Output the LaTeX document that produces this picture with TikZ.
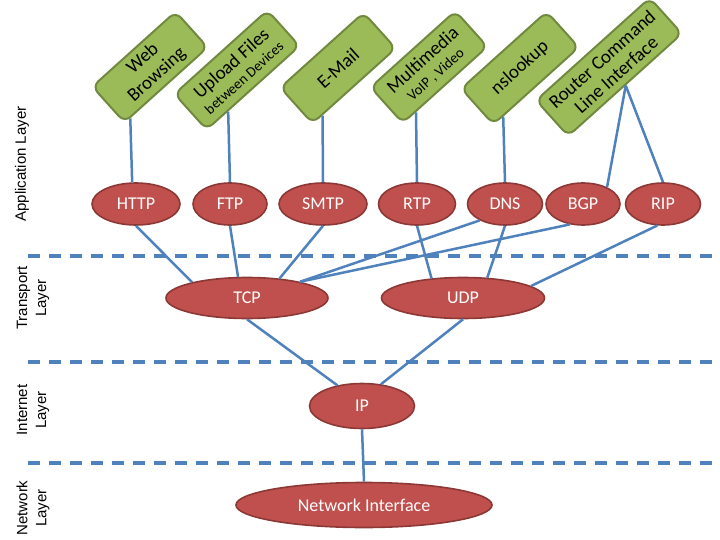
\documentclass[tikz,border=0pt]{standalone}
\usepackage{fontspec}
\setmainfont{Carlito}
\newfontfamily\layerfont{Liberation Sans}
\usetikzlibrary{shapes.geometric}
\definecolor{protofill}{HTML}{C0504D}
\definecolor{protoline}{HTML}{8C3836}
\definecolor{appfill}{HTML}{9BBB59}
\definecolor{appline}{HTML}{71893F}
\definecolor{linkblue}{HTML}{4F81BD}
\pgfkeys{tikz/proto/.style={ellipse,draw=protoline,fill=protofill,line width=1.6pt,inner sep=0pt,text=white,font=\fontsize{18}{20}\selectfont}}
\pgfkeys{tikz/appbox/.style={rectangle,rounded corners=8pt,draw=appline,fill=appfill,line width=2pt,rotate=42,minimum height=48pt,inner sep=0pt,align=center,font=\fontsize{19}{21}\selectfont}}
\pgfkeys{tikz/link/.style={draw=linkblue,line width=2.5pt}}
\pgfkeys{tikz/layerline/.style={draw=linkblue,line width=3.2pt,dash pattern=on 12pt off 9pt}}
\pgfkeys{tikz/layerlabel/.style={rotate=90,align=center,font=\layerfont\fontsize{15}{19}\selectfont}}
\newcommand*\protonode[5][42pt]{\node [proto,minimum width=#4,minimum height=#1] (#2) at (#3) {#5};}
\newcommand*\appnode[4]{\node [appbox,minimum width=#3] (#1) at (#2) {#4};}
\newcommand\subtext{\fontsize{14.5}{16}\selectfont}

\begin{document}
\begin{tikzpicture}[x=1pt,y=-1pt]
\useasboundingbox (0,0) rectangle (720,540);

% layer borders
\foreach \y in {256,362,463}
  \draw[layerline] (28,\y) -- (712,\y);

\node[layerlabel] (applayer) at (22,164) {Application Layer};
\node[layerlabel] (translayer) at (33,298) {Transport\\Layer};
\node[layerlabel] (netlayer) at (33,410) {Internet\\Layer};
\node[layerlabel] (linklayer) at (33,508) {Network\\Layer};

% applications
\appnode{web}{150,67}{112pt}{Web\\Browsing}
\appnode{upload}{237,70}{125pt}{Upload Files\\[-3pt]{\subtext between Devices}}
\appnode{email}{338,68}{112pt}{E-Mail}
\appnode{media}{429,67}{114pt}{Multimedia\\[-3pt]{\subtext VoIP , Video}}
\appnode{nslookup}{520,68}{115pt}{nslookup}
\appnode{router}{609,67}{153pt}{Router Command\\Line Interface}

% protocols
\protonode{http}{136,204}{88pt}{HTTP}
\protonode{ftp}{230,204}{74pt}{FTP}
\protonode{smtp}{323,204}{88pt}{SMTP}
\protonode{rtp}{417,204}{77pt}{RTP}
\protonode{dns}{505,204}{75pt}{DNS}
\protonode{bgp}{583,204}{74pt}{BGP}
\protonode{rip}{663,204}{75pt}{RIP}
\protonode[41pt]{tcp}{247,298}{162pt}{TCP}
\protonode[41pt]{udp}{463,298}{163pt}{UDP}
\protonode[45pt]{ip}{362,406}{105pt}{IP}
\protonode[45pt]{netif}{364,505}{256pt}{Network Interface}

% links
\foreach \a/\b in {web.207/http.100, upload.216/ftp.north, email.210/smtp.north,
    media.212/rtp.north, nslookup.209/dns.north, router.south/bgp.35, router.south/rip.north,
    http.south/tcp.164, ftp.south/tcp.113, smtp.south/tcp.31, dns.213/tcp.17, bgp.237/tcp.17,
    rtp.south/udp.148, dns.south/udp.40, rip.255/udp.10,
    tcp.south/ip.140, udp.south/ip.49, ip.south/netif.north}
  \draw[link] (\a) -- (\b);

\end{tikzpicture}
\end{document}
